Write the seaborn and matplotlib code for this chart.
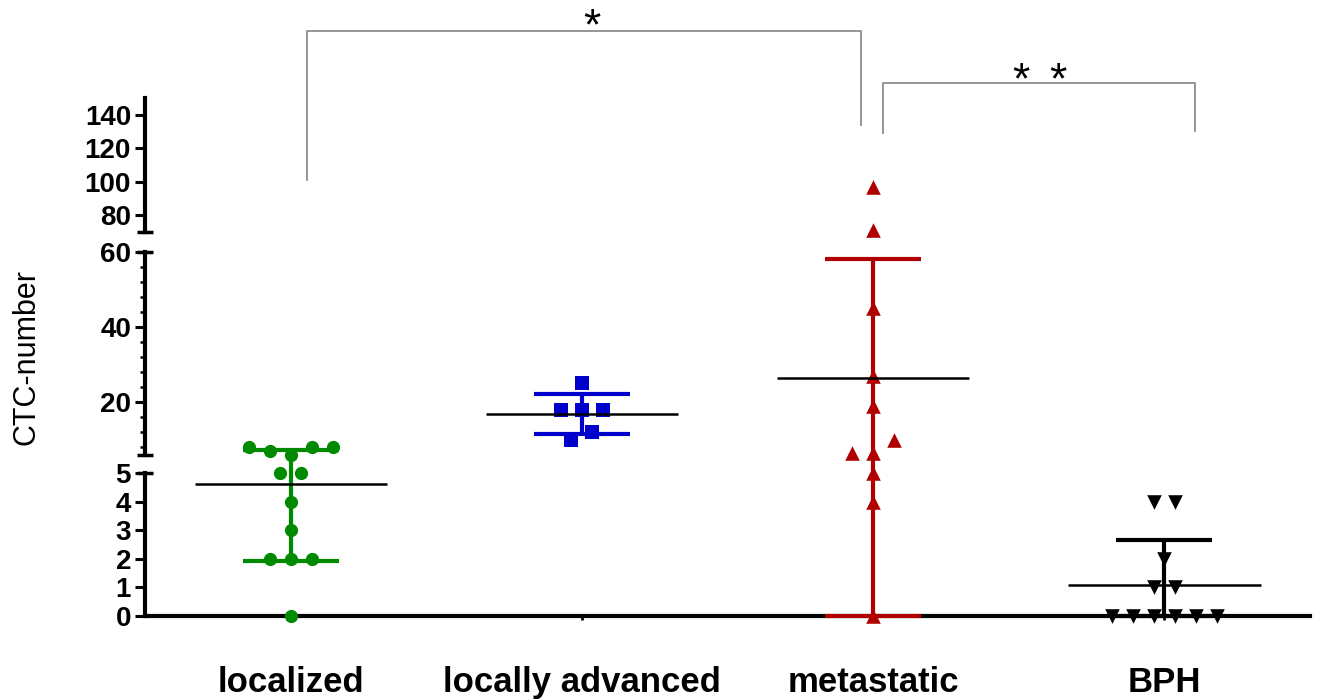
import numpy as np
import pandas as pd
import seaborn as sns
import matplotlib.pyplot as plt

plt.rcParams['font.family'] = ['Liberation Sans', 'DejaVu Sans']
plt.rcParams['font.weight'] = 'bold'

# CTC counts per group
groups = ["localized", "locally advanced", "metastatic", "BPH"]
localized = [0, 2, 2, 2, 3, 4, 5, 5, 8, 7, 6, 8, 8]
locally_advanced = [10, 12, 18, 18, 18, 25]
metastatic = [0, 4, 5, 6.5, 6.5, 10, 19, 27, 45, 71, 97]
bph = [0, 0, 0, 0, 0, 0, 1, 1, 2, 4, 4]

colors = {"localized": "#008a00", "locally advanced": "#0000cc",
          "metastatic": "#b00000", "BPH": "#000000"}
markers = {"localized": "o", "locally advanced": "s", "metastatic": "^", "BPH": "v"}
msize = {"localized": 9.5, "locally advanced": 9.5, "metastatic": 10.5, "BPH": 10.5}

values = [localized, locally_advanced, metastatic, bph]
df = pd.DataFrame({"group": np.repeat(groups, [len(v) for v in values]),
                   "ctc": np.concatenate(values)})
stats = df.groupby("group", sort=False)["ctc"].agg(["mean", "std"])

# broken y axis: three segments
limits = [(0, 5), (6, 60), (70, 150)]
fig = plt.figure(figsize=(13.17, 7), dpi=100)
ax_bot = fig.add_axes([0.1101, 0.12, 0.8846, 0.2043])
ax_mid = fig.add_axes([0.1101, 0.3507, 0.8846, 0.2893])
ax_top = fig.add_axes([0.1101, 0.6686, 0.8846, 0.1914])
axes = [ax_bot, ax_mid, ax_top]


def spread(vals, ax, lo, hi, gap_px=15, step_px=21):
    """GraphPad-like scatter: points closer than gap_px share a row, rows are centred."""
    ppu = ax.bbox.height / (hi - lo)
    step = step_px / (ax.bbox.width / len(groups))
    order = np.argsort(vals, kind="stable")
    rows = []
    for j in order:
        if rows and (vals[j] - vals[rows[-1][0]]) * ppu < gap_px:
            rows[-1].append(j)
        else:
            rows.append([j])
    off = np.zeros(len(vals))
    for r in rows:
        r = sorted(r)
        for k, j in enumerate(r):
            off[j] = (k - (len(r) - 1) / 2) * step
    return off


for ax, (lo, hi) in zip(axes, limits):
    ax.set_ylim(lo, hi)
    ax.set_xlim(-0.5, 3.5)
    for i, g in enumerate(groups):
        sub = df[(df.group == g) & (df.ctc >= lo) & (df.ctc <= hi)].copy()
        if sub.empty:
            continue
        sub["pos"] = i + spread(sub.ctc.values, ax, lo, hi)
        sns.scatterplot(data=sub, x="pos", y="ctc", ax=ax, color=colors[g],
                        marker=markers[g], s=msize[g] ** 2, linewidth=0,
                        legend=False, clip_on=False, zorder=3)
    ax.set_ylim(lo, hi)
    ax.set_xlim(-0.5, 3.5)
    ax.set_xlabel("")
    ax.set_ylabel("")
    for s in ["top", "right"]:
        ax.spines[s].set_visible(False)
    ax.spines["left"].set_linewidth(3)
    ax.tick_params(axis="y", which="major", length=7, width=2.2, labelsize=20, pad=3)
    ax.tick_params(axis="y", which="minor", length=3.5, width=1.8)

for ax in [ax_mid, ax_top]:
    ax.spines["bottom"].set_visible(False)
    ax.set_xticks([])

ax_bot.set_yticks(range(6))
ax_mid.set_yticks([20, 40, 60])
ax_mid.set_yticks([v for v in range(8, 60, 4) if v % 20], minor=True)
ax_top.set_yticks([80, 100, 120, 140])

ax_bot.spines["bottom"].set_linewidth(3)
ax_bot.set_xticks(range(len(groups)))
ax_bot.set_xticklabels(groups, fontsize=25, fontweight="bold")
ax_bot.tick_params(axis="x", length=3, width=2, pad=33)

# break caps on the y spine
for ax, ends in [(ax_bot, [5]), (ax_mid, [6, 60]), (ax_top, [70])]:
    for v in ends:
        ax.plot([-0.007, 0.007], [v, v], transform=ax.get_yaxis_transform(),
                color="black", lw=2.5, clip_on=False, solid_capstyle="butt")

# mean and SD
for i, g in enumerate(groups):
    m, s = stats.loc[g, "mean"], stats.loc[g, "std"]
    lo_v, hi_v = max(m - s, 0), m + s
    for k, (ax, (lo, hi)) in enumerate(zip(axes, limits)):
        a, b = max(lo_v, lo), min(hi_v, hi)
        if hi_v > hi and k + 1 < len(axes):
            y_disp = axes[k + 1].transData.transform((0, limits[k + 1][0]))[1]
            b = ax.transData.inverted().transform((0, y_disp))[1]
        if a < b:
            ax.vlines(i, a, b, color=colors[g], lw=3, clip_on=False, zorder=2)
        for v in (lo_v, hi_v):
            if lo <= v <= hi:
                ax.hlines(v, i - 0.165, i + 0.165, color=colors[g], lw=3,
                          clip_on=False, zorder=2.6)
        if lo <= m <= hi:
            ax.hlines(m, i - 0.33, i + 0.33, color="black", lw=1.8, zorder=4)

# significance brackets
br = "#8c8c8c"
ax_top.plot([0.055, 0.055, 1.957, 1.957], [101, 190, 190, 134], color=br, lw=1.3, clip_on=False)
ax_top.plot([2.033, 2.033, 3.106, 3.106], [129, 159, 159, 130], color=br, lw=1.3, clip_on=False)
ax_top.text(1.035, 185, "*", ha="center", va="baseline", fontsize=32, fontweight="normal")
for xs in (2.506, 2.636):
    ax_top.text(xs, 153, "*", ha="center", va="baseline", fontsize=32, fontweight="normal")

fig.text(27 / 1317, 1 - 357 / 700, "CTC-number", rotation=90, ha="center", va="center",
         fontsize=22, fontweight="normal")

fig.savefig("out.png", dpi=100)
